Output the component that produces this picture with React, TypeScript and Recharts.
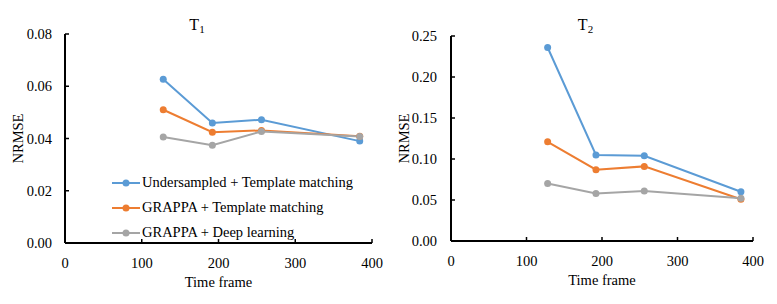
import { Label, Legend, Line, LineChart, XAxis, YAxis } from "recharts";

const frames = [128, 192, 256, 384];
const seriesNames = [
  "Undersampled + Template matching",
  "GRAPPA + Template matching",
  "GRAPPA + Deep learning",
];
const seriesColors = ["#5B9BD5", "#ED7D31", "#A5A5A5"];

// T1 panel
const t1Undersampled = [0.0627, 0.0459, 0.0472, 0.039];
const t1GrappaTemplate = [0.051, 0.0424, 0.0431, 0.0409];
const t1GrappaDeep = [0.0406, 0.0374, 0.0427, 0.0408];

// T2 panel
const t2Undersampled = [0.236, 0.105, 0.104, 0.06];
const t2GrappaTemplate = [0.121, 0.087, 0.091, 0.051];
const t2GrappaDeep = [0.07, 0.058, 0.061, 0.052];

const xTicks = [0, 100, 200, 300, 400];
const t1Ticks = [0, 0.02, 0.04, 0.06, 0.08];
const t2Ticks = [0, 0.05, 0.1, 0.15, 0.2, 0.25];

const FONT = "'Liberation Serif', 'Times New Roman', serif";
const tickStyle = { fill: "#000", fontSize: 14.5, fontFamily: FONT };

const buildRows = (a: number[], b: number[], c: number[]) =>
  frames.map((f, i) => ({ frame: f, s0: a[i], s1: b[i], s2: c[i] }));

// keep the legend in series order (recharts sorts by name otherwise)
const renderLegend = (props: any) => {
  const items = [...(props.payload || [])].sort(
    (a: any, b: any) => seriesNames.indexOf(a.value) - seriesNames.indexOf(b.value)
  );
  return (
    <div style={{ fontFamily: FONT }}>
      {items.map((entry: any) => (
        <div
          key={entry.value}
          style={{ display: "flex", alignItems: "center", height: 25 }}
        >
          <svg width={30} height={10} style={{ display: "block" }}>
            <line x1={0} y1={5} x2={28} y2={5} stroke={entry.color} strokeWidth={2} />
            <circle cx={14} cy={5} r={3.5} fill={entry.color} />
          </svg>
          <span style={{ fontSize: 14.5, color: "#000", whiteSpace: "nowrap" }}>
            {entry.value}
          </span>
        </div>
      ))}
    </div>
  );
};

interface PanelProps {
  width: number;
  sub: string;
  rows: { frame: number; s0: number; s1: number; s2: number }[];
  yTicks: number[];
  top: number;
  right: number;
  bottom: number;
  yAxisWidth: number;
  yTickMargin: number;
  yLabelOffset: number;
  showLegend?: boolean;
}

const Panel = ({
  width,
  sub,
  rows,
  yTicks,
  top,
  right,
  bottom,
  yAxisWidth,
  yTickMargin,
  yLabelOffset,
  showLegend,
}: PanelProps) => {
  return (
    <LineChart
      width={width}
      height={304}
      data={rows}
      margin={{ top, right, left: 0, bottom }}
    >
      <text x={width / 2 + 2} y={30} textAnchor="middle" fontSize={16} fontFamily={FONT} fill="#000">
        T
        <tspan fontSize={11} dy={3}>
          {sub}
        </tspan>
      </text>
      <XAxis
        dataKey="frame"
        type="number"
        domain={[0, 400]}
        ticks={xTicks}
        height={45}
        tick={tickStyle}
        tickSize={-4}
        tickMargin={19}
        axisLine={{ stroke: "#000", strokeWidth: 2 }}
        tickLine={{ stroke: "#000", strokeWidth: 1.5 }}
      >
        <Label
          value="Time frame"
          position="insideBottom"
          offset={1}
          style={{ fill: "#000", fontSize: 14.5, fontFamily: FONT }}
        />
      </XAxis>
      <YAxis
        type="number"
        domain={[yTicks[0], yTicks[yTicks.length - 1]]}
        ticks={yTicks}
        width={yAxisWidth}
        tick={tickStyle}
        tickSize={-4}
        tickMargin={yTickMargin}
        tickFormatter={(v: number) => v.toFixed(2)}
        axisLine={{ stroke: "#000", strokeWidth: 2 }}
        tickLine={{ stroke: "#000", strokeWidth: 1.5 }}
      >
        <Label
          value="NRMSE"
          angle={-90}
          position="insideLeft"
          offset={yLabelOffset}
          style={{ fill: "#000", fontSize: 14.5, fontFamily: FONT, textAnchor: "middle" }}
        />
      </YAxis>
      {showLegend && (
        <Legend
          layout="vertical"
          align="center"
          verticalAlign="middle"
          content={renderLegend}
          wrapperStyle={{ left: 112, top: 170, width: "auto" }}
        />
      )}
      {["s0", "s1", "s2"].map((key, i) => (
        <Line
          key={key}
          type="linear"
          dataKey={key}
          name={seriesNames[i]}
          stroke={seriesColors[i]}
          strokeWidth={2}
          dot={{ r: 3.5, fill: seriesColors[i], stroke: seriesColors[i], strokeWidth: 0 }}
          activeDot={false}
          isAnimationActive={false}
        />
      ))}
    </LineChart>
  );
};

const App = () => {
  return (
    <div
      style={{
        position: "absolute",
        left: 0,
        top: 0,
        width: 777,
        height: 304,
        background: "#fff",
        display: "flex",
        fontFamily: FONT,
      }}
    >
      <Panel
        width={390}
        sub="1"
        rows={buildRows(t1Undersampled, t1GrappaTemplate, t1GrappaDeep)}
        yTicks={t1Ticks}
        top={34}
        right={18}
        bottom={16}
        yAxisWidth={65}
        yTickMargin={17}
        yLabelOffset={18}
        showLegend
      />
      <Panel
        width={387}
        sub="2"
        rows={buildRows(t2Undersampled, t2GrappaTemplate, t2GrappaDeep)}
        yTicks={t2Ticks}
        top={36}
        right={24}
        bottom={18}
        yAxisWidth={61}
        yTickMargin={18}
        yLabelOffset={14}
      />
    </div>
  );
};

export default App;
